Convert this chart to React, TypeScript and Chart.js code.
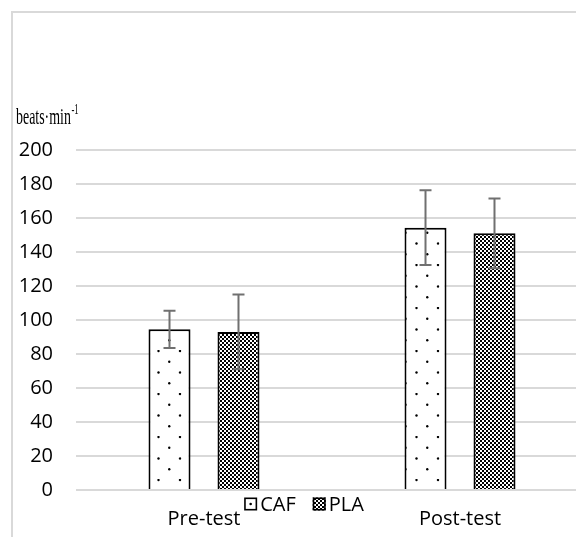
import React, { useEffect, useRef } from "react";
import { Chart, registerables } from "chart.js";

Chart.register(...registerables);

const categories = ["Pre-test", "Post-test"];
const seriesNames = ["CAF", "PLA"];
const cafValues = [94.5, 154.3];
const cafSd = [11, 22];
const plaValues = [93, 151];
const plaSd = [22, 20.5];
const yTicks = [0, 20, 40, 60, 80, 100, 120, 140, 160, 180, 200];
const yTitle = "beats·min";
const yTitleSup = "-1";

const FONT = "'Open Sans', Lato, sans-serif";

function makeDotPattern(ctx: CanvasRenderingContext2D) {
  const t = document.createElement("canvas");
  const s = 43;
  t.width = s;
  t.height = s;
  const c = t.getContext("2d")!;
  c.fillStyle = "#ffffff";
  c.fillRect(0, 0, s, s);
  c.fillStyle = "#000000";
  const step = 21.5;
  const rowStep = 10.75;
  for (let j = 0; j < 4; j++) {
    const y = j * rowStep;
    const off = j % 2 === 0 ? 0 : step / 2;
    for (let i = -1; i < 3; i++) {
      const x = i * step + off;
      c.beginPath();
      c.arc(x + 1, y + 1, 1.2, 0, Math.PI * 2);
      c.fill();
    }
  }
  const p = ctx.createPattern(t, "repeat")!;
  try {
    p.setTransform(new DOMMatrix([1, 0, 0, 1, 7, 6]));
  } catch (e) {}
  return p;
}

function makeCheckerPattern(ctx: CanvasRenderingContext2D) {
  const t = document.createElement("canvas");
  t.width = 4;
  t.height = 4;
  const c = t.getContext("2d")!;
  c.fillStyle = "#ffffff";
  c.fillRect(0, 0, 4, 4);
  c.fillStyle = "#000000";
  c.fillRect(0, 0, 2, 2);
  c.fillRect(2, 2, 2, 2);
  return ctx.createPattern(t, "repeat")!;
}

export default function App() {
  const ref = useRef<HTMLCanvasElement>(null);

  useEffect(() => {
    const canvas = ref.current!;
    const ctx = canvas.getContext("2d")!;
    const dotPat = makeDotPattern(ctx);
    const checkPat = makeCheckerPattern(ctx);
    const sds = [cafSd, plaSd];

    const framePlugin = {
      id: "frame",
      beforeDraw(chart: any) {
        const c = chart.ctx;
        c.save();
        c.fillStyle = "#ffffff";
        c.fillRect(0, 0, chart.width, chart.height);
        c.strokeStyle = "#d9d9d9";
        c.lineWidth = 2;
        c.beginPath();
        c.moveTo(12, chart.height + 5);
        c.lineTo(12, 12);
        c.lineTo(chart.width + 5, 12);
        c.stroke();
        c.restore();
      },
    };

    const titlePlugin = {
      id: "ytitle",
      afterDraw(chart: any) {
        const c = chart.ctx;
        c.save();
        c.fillStyle = "#000000";
        c.textBaseline = "alphabetic";
        c.translate(16, 124);
        c.scale(0.58, 1);
        c.font = "24px 'Liberation Serif', serif";
        c.fillText(yTitle, 0, 0);
        const w = c.measureText(yTitle).width;
        c.font = "15px 'Liberation Serif', serif";
        c.fillText(yTitleSup, w + 1, -10);
        c.restore();
      },
    };

    const errorPlugin = {
      id: "errbars",
      afterDatasetsDraw(chart: any) {
        const c = chart.ctx;
        const ys = chart.scales.y;
        c.save();
        c.strokeStyle = "#707070";
        c.lineWidth = 2;
        chart.data.datasets.forEach((ds: any, di: number) => {
          const meta = chart.getDatasetMeta(di);
          meta.data.forEach((el: any, i: number) => {
            const v = ds.data[i];
            const sd = sds[di][i];
            const x = el.x;
            const yt = ys.getPixelForValue(v + sd);
            const yb = ys.getPixelForValue(v - sd);
            c.beginPath();
            c.moveTo(x, yt);
            c.lineTo(x, yb);
            c.moveTo(x - 6, yt);
            c.lineTo(x + 6, yt);
            c.moveTo(x - 6, yb);
            c.lineTo(x + 6, yb);
            c.stroke();
          });
        });
        c.restore();
      },
    };

    const legendPlugin = {
      id: "customLegend",
      afterDraw(chart: any) {
        const c = chart.ctx;
        c.save();
        c.font = `20px ${FONT}`;
        c.textBaseline = "middle";
        const box = 13;
        const gapBoxText = 3;
        const gapItems = 17;
        const widths = seriesNames.map((n) => c.measureText(n).width);
        const total =
          widths.reduce((a, b) => a + b, 0) +
          seriesNames.length * (box + gapBoxText) +
          gapItems * (seriesNames.length - 1);
        let x = (12 + chart.width) / 2 - total / 2;
        const yc = chart.chartArea.bottom + 14;
        seriesNames.forEach((n, i) => {
          const bx = x;
          const by = yc - box / 2;
          if (i === 0) {
            c.fillStyle = "#ffffff";
            c.fillRect(bx, by, box, box);
            c.fillStyle = "#000";
            c.beginPath();
            c.arc(bx + box / 2, by + box / 2, 1.3, 0, Math.PI * 2);
            c.fill();
          } else {
            c.fillStyle = checkPat;
            c.fillRect(bx, by, box, box);
          }
          c.strokeStyle = "#000";
          c.lineWidth = 1.6;
          c.strokeRect(bx + 0.8, by + 0.8, box - 1.6, box - 1.6);
          c.fillStyle = "#000";
          c.fillText(n, bx + box + gapBoxText, yc + 1);
          x = bx + box + gapBoxText + widths[i] + gapItems;
        });
        c.restore();
      },
    };

    const chart = new Chart(canvas, {
      type: "bar",
      data: {
        labels: categories,
        datasets: [
          {
            label: seriesNames[0],
            data: cafValues,
            backgroundColor: dotPat as any,
            borderColor: "#000000",
            borderWidth: 2,
            categoryPercentage: 0.539,
            barPercentage: 0.609,
          },
          {
            label: seriesNames[1],
            data: plaValues,
            backgroundColor: checkPat as any,
            borderColor: "#000000",
            borderWidth: 2,
            categoryPercentage: 0.539,
            barPercentage: 0.609,
          },
        ],
      },
      options: {
        responsive: false,
        animation: false,
        layout: { padding: { top: 150, left: 0, right: 8, bottom: 0 } },
        plugins: {
          legend: { display: false },
          tooltip: { enabled: false },
          title: { display: false },
        },
        scales: {
          x: {
            grid: { display: false, drawTicks: false },
            border: { display: false },
            ticks: {
              color: "#000",
              font: { family: FONT, size: 20 },
              padding: 17,
            },
            afterFit: (s: any) => {
              s.height = 47;
            },
          },
          y: {
            min: 0,
            max: 200,
            afterBuildTicks: (s: any) => {
              s.ticks = yTicks.map((v) => ({ value: v }));
            },
            grid: { color: "#d9d9d9", lineWidth: 2, drawTicks: false },
            border: { display: false },
            ticks: {
              color: "#000",
              font: { family: FONT, size: 20 },
              padding: 23,
            },
            afterFit: (s: any) => {
              s.width = 76;
            },
          },
        },
      },
      plugins: [framePlugin, errorPlugin, titlePlugin, legendPlugin],
    });
    return () => chart.destroy();
  }, []);

  return (
    <div
      style={{
        position: "fixed",
        left: 0,
        top: 0,
        width: 576,
        height: 537,
        overflow: "hidden",
        background: "#fff",
      }}
    >
      <canvas ref={ref} width={596} height={537} style={{ width: 596, height: 537 }} />
    </div>
  );
}
